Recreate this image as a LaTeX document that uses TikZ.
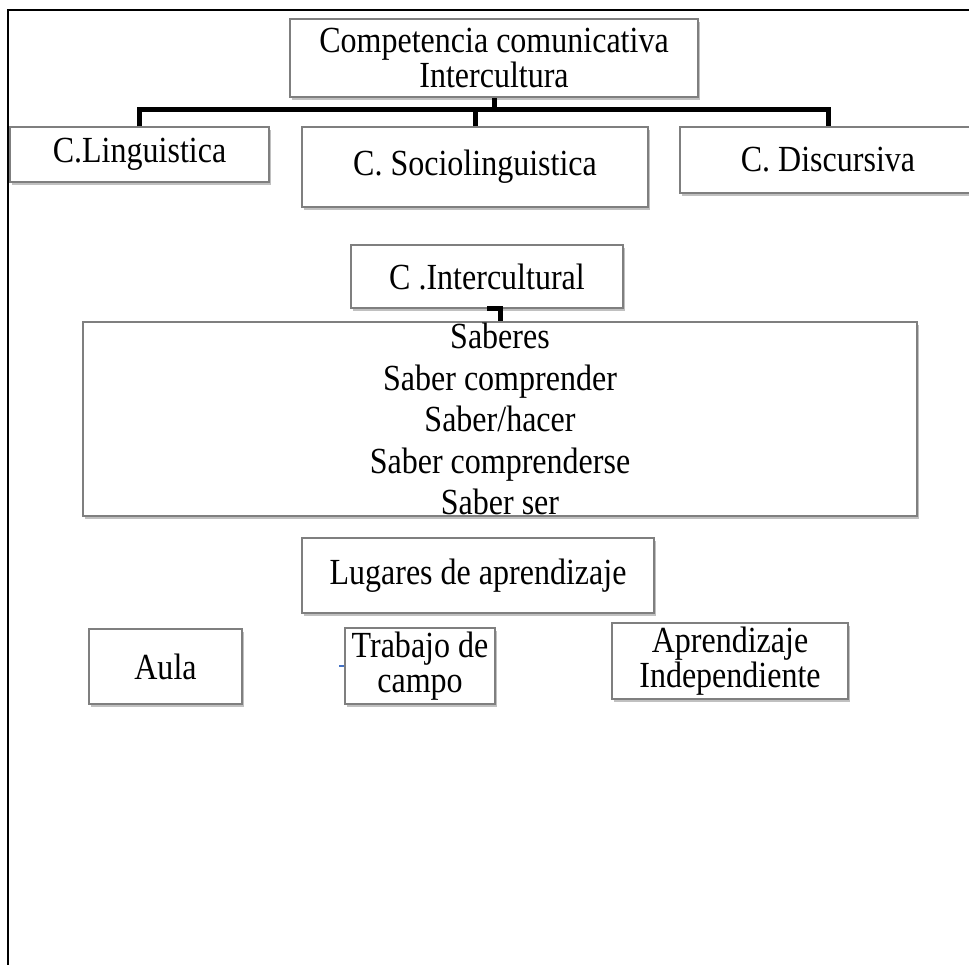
\documentclass[tikz,border=0pt]{standalone}
\usepackage{fontspec}
\setmainfont{Liberation Serif}[FakeStretch=0.87]
\usetikzlibrary{shadows}
\definecolor{boxline}{HTML}{7F7F7F}
\definecolor{tickblue}{HTML}{4472C4}
\tikzset{
  box/.style={draw=boxline, line width=0.75pt, fill=white, inner sep=0pt,
    align=center, font=\fontsize{18.4}{17.5}\selectfont,
    drop shadow={shadow xshift=1.2pt, shadow yshift=-1.5pt, opacity=0.35, fill=black!70}},
  conn/.style={line width=2.5pt, line join=miter, black},
  frame/.style={line width=1pt, black},
  bluetick/.style={line width=0.6pt, tickblue}
}
\begin{document}
\begin{tikzpicture}[x=0.5pt, y=-0.5pt]
\useasboundingbox (0,0) rectangle (969,964);
\clip (0,0) rectangle (969,964);
\fill[white] (0,0) rectangle (969,964);
\draw[frame] (8,966) -- (8,10) -- (971,10);

\node[box, minimum width=204pt, minimum height=39pt, font=\fontsize{18.4}{16}\selectfont] (top) at (494,58) {Competencia comunicativa\\Intercultura};
\node[box, minimum width=129.5pt, minimum height=27.5pt] (ling) at (139.5,154.5) {C.Linguistica};
\node[box, minimum width=173pt, minimum height=40pt] (socio) at (475,167) {C. Sociolinguistica};
\node[box, minimum width=148pt, minimum height=33pt] (disc) at (828,160) {C. Discursiva};

\coordinate (hub) at (494,109);
\draw[conn] (top.south) -- (hub);
\draw[conn] (ling.north) |- (hub) -| (disc.north);
\draw[conn] (socio.north) -- (socio.north |- hub);

\node[box, minimum width=136pt, minimum height=31.5pt] (inter) at (487,276.5) {C .Intercultural};
\node[box, minimum width=417pt, minimum height=97pt, font=\fontsize{18.4}{20.75}\selectfont] (sab) at (500,419)
  {Saberes\\Saber comprender\\Saber/hacer\\Saber comprenderse\\Saber ser};
\draw[conn] (inter.south) -| (sab.north);

\node[box, minimum width=176pt, minimum height=37.5pt] (lug) at (478,575.5) {Lugares de aprendizaje};
\node[box, minimum width=76.5pt, minimum height=37.5pt] (aula) at (165.5,666.5) {Aula};
\node[box, minimum width=75pt, minimum height=38pt] (trab) at (420,666) {Trabajo de\\campo};
\node[box, minimum width=118pt, minimum height=38pt] (apr) at (730,661) {Aprendizaje\\Independiente};
\coordinate (tickend) at (339,666);
\draw[bluetick] (trab.west) -- (tickend);
\end{tikzpicture}
\end{document}
